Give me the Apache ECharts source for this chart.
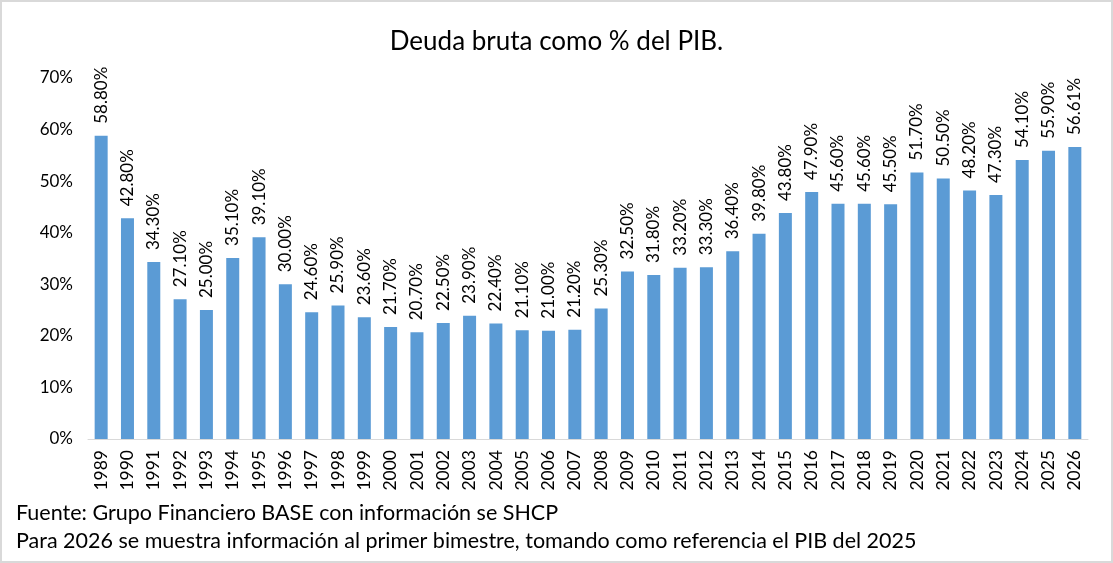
<!DOCTYPE html>
<html><head><meta charset="utf-8">
<script src="https://cdn.jsdelivr.net/npm/echarts@6/dist/echarts.min.js"></script>
<style>
html,body{margin:0;padding:0;background:#fff;}
#c{width:1113px;height:563px;box-sizing:border-box;border:2px solid #d9d9d9;}
</style></head><body>
<div id="c"></div>
<script>
const years = ['1989','1990','1991','1992','1993','1994','1995','1996','1997','1998','1999','2000','2001','2002','2003','2004','2005','2006','2007','2008','2009','2010','2011','2012','2013','2014','2015','2016','2017','2018','2019','2020','2021','2022','2023','2024','2025','2026'];
const deuda = [58.80,42.80,34.30,27.10,25.00,35.10,39.10,30.00,24.60,25.90,23.60,21.70,20.70,22.50,23.90,22.40,21.10,21.00,21.20,25.30,32.50,31.80,33.20,33.30,36.40,39.80,43.80,47.90,45.60,45.60,45.50,51.70,50.50,48.20,47.30,54.10,55.90,56.61];
const titleText = 'Deuda bruta como % del PIB.';
const note1 = 'Fuente: Grupo Financiero BASE con información se SHCP';
const note2 = 'Para 2026 se muestra información al primer bimestre, tomando como referencia el PIB del 2025';

const FONT = 'Lato, "Open Sans", sans-serif';
const chart = echarts.init(document.getElementById('c'), null, {renderer:'canvas'});
chart.setOption({
  animation:false,
  textStyle:{fontFamily:FONT},
  title:{text:titleText,left:'center',top:22,textStyle:{fontFamily:FONT,fontWeight:'normal',fontSize:26,color:'#000'}},
  graphic:[
    {type:'text',left:14,top:500,style:{text:note1,font:'21.5px '+FONT,fill:'#000'}},
    {type:'text',left:14,top:528,style:{text:note2,font:'21.5px '+FONT,fill:'#000'}}
  ],
  grid:{left:86,right:23,top:76,bottom:122},
  xAxis:{type:'category',data:years,
    axisLine:{lineStyle:{color:'#d9d9d9',width:1}},
    axisTick:{show:false},
    axisLabel:{rotate:90,color:'#000',fontSize:17.5,fontFamily:FONT,margin:11,interval:0}},
  yAxis:{type:'value',min:0,max:70,interval:10,
    splitLine:{show:false},
    axisLine:{show:false},axisTick:{show:false},
    axisLabel:{formatter:v=>v+'%',color:'#000',fontSize:17,fontFamily:FONT,margin:15}},
  series:[{type:'bar',data:deuda,barWidth:13,
    itemStyle:{color:'#5b9bd5'},
    label:{show:true,position:'top',rotate:90,align:'left',verticalAlign:'middle',distance:12,
      formatter:p=>p.value.toFixed(2)+'%',color:'#000',fontSize:17,fontFamily:FONT}}]
});
</script>
</body></html>
